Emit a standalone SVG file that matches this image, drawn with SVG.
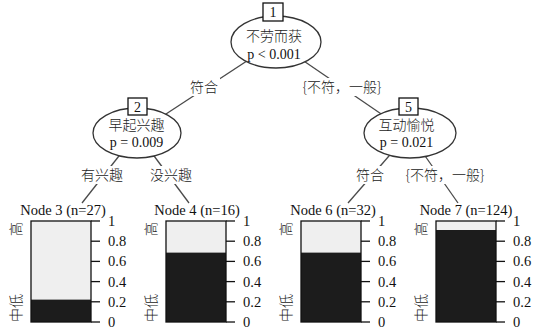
<svg xmlns="http://www.w3.org/2000/svg" width="539" height="332" viewBox="0 0 539 332">
<style>
.edge{stroke:#4a4a4a;stroke-width:1.3;fill:none}
.ell{fill:#fff;stroke:#333;stroke-width:1.3}
.box{fill:#fff;stroke:#111;stroke-width:1.3}
.lbg{fill:#fff}
.t{font-family:"Liberation Serif","Noto Sans CJK SC",serif;font-size:14px;fill:#111;text-anchor:middle}
.cn{font-family:"Noto Sans CJK SC","Liberation Serif",serif;font-size:14px;fill:#222;text-anchor:middle;font-weight:300}
.num{font-family:"Liberation Serif",serif;font-size:14px;fill:#111;text-anchor:middle}
.ttl{font-family:"Liberation Serif",serif;font-size:14.5px;fill:#111;text-anchor:middle}
.tick{font-family:"Liberation Serif",serif;font-size:14.5px;fill:#111}
.rot{font-family:"Noto Sans CJK SC",serif;font-size:14px;fill:#222;font-weight:300}
.light{fill:#efefef;stroke:none}
.dark{fill:#1c1c1c;stroke:none}
.frame{fill:none;stroke:#111;stroke-width:1.3}
.ax{stroke:#111;stroke-width:1.3}
</style>
<g id="connectors">
<line class="edge" x1="276" y1="42" x2="137" y2="133"/>
<line class="edge" x1="276" y1="42" x2="409" y2="133"/>
<line class="edge" x1="137" y1="133" x2="82" y2="203"/>
<line class="edge" x1="137" y1="133" x2="189" y2="203"/>
<line class="edge" x1="409" y1="133" x2="348" y2="203"/>
<line class="edge" x1="409" y1="133" x2="458" y2="203"/>
<rect class="lbg" x="188" y="78" width="32" height="18"/>
<text class="cn" x="204" y="92">符合</text>
<rect class="lbg" x="296" y="78" width="92" height="18"/>
<text class="cn" x="342" y="92">{不符，一般}</text>
<rect class="lbg" x="80" y="166" width="45" height="18"/>
<text class="cn" x="102" y="180">有兴趣</text>
<rect class="lbg" x="148" y="166" width="46" height="18"/>
<text class="cn" x="171" y="180">没兴趣</text>
<rect class="lbg" x="355" y="166" width="31" height="18"/>
<text class="cn" x="370" y="180">符合</text>
<rect class="lbg" x="400" y="166" width="90" height="18"/>
<text class="cn" x="445" y="180">{不符，一般}</text>
</g>
<g id="node1">
<ellipse class="ell" cx="276" cy="42" rx="45" ry="26"/>
<rect class="box" x="263" y="3" width="20" height="18"/>
<text class="num" x="273" y="17">1</text>
<text class="cn" x="274" y="41">不劳而获</text>
<text class="t" x="274" y="59">p &lt; 0.001</text>
</g>
<g id="node2">
<ellipse class="ell" cx="137" cy="133" rx="44" ry="25"/>
<rect class="box" x="128" y="98" width="19" height="17"/>
<text class="num" x="137.5" y="111.5">2</text>
<text class="cn" x="136.5" y="130">早起兴趣</text>
<text class="t" x="136.5" y="147">p = 0.009</text>
</g>
<g id="node5">
<ellipse class="ell" cx="410" cy="133" rx="46" ry="25"/>
<rect class="box" x="399" y="98" width="19" height="17"/>
<text class="num" x="408.5" y="111.5">5</text>
<text class="cn" x="406.5" y="130">互动愉悦</text>
<text class="t" x="406.5" y="147">p = 0.021</text>
</g>
<g id="node3">
<text class="ttl" x="63" y="215">Node 3 (n=27)</text>
<rect class="light" x="31" y="221" width="60" height="78.6"/>
<rect class="dark" x="31" y="299.6" width="60" height="22.4"/>
<rect class="frame" x="31" y="221" width="60" height="101"/>
<g class="ax"><line x1="91" y1="221" x2="100" y2="221"/><line x1="91" y1="241.2" x2="100" y2="241.2"/><line x1="91" y1="261.4" x2="100" y2="261.4"/><line x1="91" y1="281.6" x2="100" y2="281.6"/><line x1="91" y1="301.8" x2="100" y2="301.8"/><line x1="91" y1="322" x2="100" y2="322"/></g>
<text class="tick" x="108" y="226">1</text><text class="tick" x="108" y="246">0.8</text><text class="tick" x="108" y="266">0.6</text><text class="tick" x="108" y="286.5">0.4</text><text class="tick" x="108" y="306.5">0.2</text><text class="tick" x="108" y="327">0</text>
<text class="rot" transform="translate(20.5,222) rotate(-90)" text-anchor="end">高</text>
<text class="rot" transform="translate(20.5,322) rotate(-90)" text-anchor="start">中低</text>
</g>
<g id="node4">
<text class="ttl" x="197" y="215">Node 4 (n=16)</text>
<rect class="light" x="166" y="221" width="60" height="31.6"/>
<rect class="dark" x="166" y="252.6" width="60" height="69.4"/>
<rect class="frame" x="166" y="221" width="60" height="101"/>
<g class="ax"><line x1="226" y1="221" x2="235" y2="221"/><line x1="226" y1="241.2" x2="235" y2="241.2"/><line x1="226" y1="261.4" x2="235" y2="261.4"/><line x1="226" y1="281.6" x2="235" y2="281.6"/><line x1="226" y1="301.8" x2="235" y2="301.8"/><line x1="226" y1="322" x2="235" y2="322"/></g>
<text class="tick" x="243" y="226">1</text><text class="tick" x="243" y="246">0.8</text><text class="tick" x="243" y="266">0.6</text><text class="tick" x="243" y="286.5">0.4</text><text class="tick" x="243" y="306.5">0.2</text><text class="tick" x="243" y="327">0</text>
<text class="rot" transform="translate(155.5,222) rotate(-90)" text-anchor="end">高</text>
<text class="rot" transform="translate(155.5,322) rotate(-90)" text-anchor="start">中低</text>
</g>
<g id="node6">
<text class="ttl" x="333" y="215">Node 6 (n=32)</text>
<rect class="light" x="301" y="221" width="60" height="31.6"/>
<rect class="dark" x="301" y="252.6" width="60" height="69.4"/>
<rect class="frame" x="301" y="221" width="60" height="101"/>
<g class="ax"><line x1="361" y1="221" x2="370" y2="221"/><line x1="361" y1="241.2" x2="370" y2="241.2"/><line x1="361" y1="261.4" x2="370" y2="261.4"/><line x1="361" y1="281.6" x2="370" y2="281.6"/><line x1="361" y1="301.8" x2="370" y2="301.8"/><line x1="361" y1="322" x2="370" y2="322"/></g>
<text class="tick" x="378" y="226">1</text><text class="tick" x="378" y="246">0.8</text><text class="tick" x="378" y="266">0.6</text><text class="tick" x="378" y="286.5">0.4</text><text class="tick" x="378" y="306.5">0.2</text><text class="tick" x="378" y="327">0</text>
<text class="rot" transform="translate(290.5,222) rotate(-90)" text-anchor="end">高</text>
<text class="rot" transform="translate(290.5,322) rotate(-90)" text-anchor="start">中低</text>
</g>
<g id="node7">
<text class="ttl" x="466" y="215">Node 7 (n=124)</text>
<rect class="light" x="436" y="221" width="60" height="9"/>
<rect class="dark" x="436" y="230" width="60" height="92"/>
<rect class="frame" x="436" y="221" width="60" height="101"/>
<g class="ax"><line x1="496" y1="221" x2="505" y2="221"/><line x1="496" y1="241.2" x2="505" y2="241.2"/><line x1="496" y1="261.4" x2="505" y2="261.4"/><line x1="496" y1="281.6" x2="505" y2="281.6"/><line x1="496" y1="301.8" x2="505" y2="301.8"/><line x1="496" y1="322" x2="505" y2="322"/></g>
<text class="tick" x="513" y="226">1</text><text class="tick" x="513" y="246">0.8</text><text class="tick" x="513" y="266">0.6</text><text class="tick" x="513" y="286.5">0.4</text><text class="tick" x="513" y="306.5">0.2</text><text class="tick" x="513" y="327">0</text>
<text class="rot" transform="translate(425.5,222) rotate(-90)" text-anchor="end">高</text>
<text class="rot" transform="translate(425.5,322) rotate(-90)" text-anchor="start">中低</text>
</g>
</svg>
